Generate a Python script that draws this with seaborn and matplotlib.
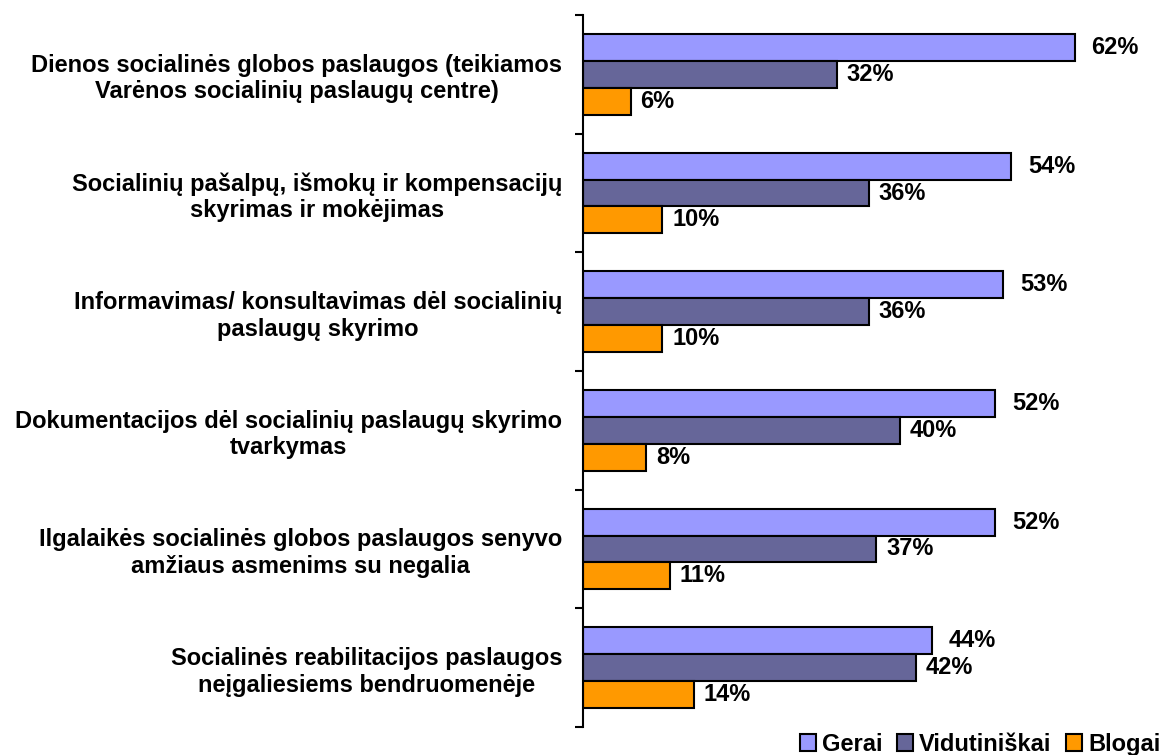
import pandas as pd
import matplotlib.pyplot as plt
import seaborn as sns

# survey categories and answer shares (%)
categories = [
    "Dienos socialinės globos paslaugos (teikiamos\nVarėnos socialinių paslaugų centre)",
    "Socialinių pašalpų, išmokų ir kompensacijų\nskyrimas ir mokėjimas",
    "Informavimas/ konsultavimas dėl socialinių\npaslaugų skyrimo",
    "Dokumentacijos dėl socialinių paslaugų skyrimo\ntvarkymas",
    "Ilgalaikės socialinės globos paslaugos senyvo\namžiaus asmenims su negalia",
    "Socialinės reabilitacijos paslaugos\nneįgaliesiems bendruomenėje",
]
series = ["Gerai", "Vidutiniškai", "Blogai"]
gerai = [62, 54, 53, 52, 52, 44]
vidutiniskai = [32, 36, 36, 40, 37, 42]
blogai = [6, 10, 10, 8, 11, 14]
colors = ["#9999FF", "#666699", "#FF9900"]

rows = []
for i, cat in enumerate(categories):
    for name, vals in zip(series, [gerai, vidutiniskai, blogai]):
        rows.append({"Kategorija": cat, "Vertinimas": name, "Procentai": vals[i]})
df = pd.DataFrame(rows)

sns.set_style("white")
plt.rcParams["font.family"] = ["Liberation Sans", "DejaVu Sans"]
plt.rcParams["font.weight"] = "bold"
plt.rcParams["text.color"] = "black"
plt.rcParams["ytick.color"] = "black"

fs = 17

fig = plt.figure(figsize=(11.63, 7.55), dpi=100)
ax = fig.add_axes([0.5013, 0.0371, 0.491, 0.943])

sns.barplot(data=df, y="Kategorija", x="Procentai", hue="Vertinimas",
            hue_order=series, palette=colors, orient="h", width=0.68,
            edgecolor="black", linewidth=1.5, saturation=1, ax=ax)

ax.set_xlim(0, 72)
ax.set_ylim(5.5, -0.5)
ax.set_xlabel("")
ax.set_ylabel("")
ax.set_xticks([])

# category labels at centres, tick marks at group boundaries
ax.set_yticks(range(len(categories)))
ax.set_yticklabels(categories, fontsize=fs, fontweight="bold", color="black",
                   multialignment="center", linespacing=1.2)
ax.set_yticks([i - 0.5 for i in range(len(categories) + 1)], minor=True)
ax.tick_params(axis="y", which="major", length=0, pad=15)
ax.tick_params(axis="y", which="minor", length=6, width=1.5, color="black", left=True)

for side in ["top", "right", "bottom"]:
    ax.spines[side].set_visible(False)
ax.spines["left"].set_linewidth(1.5)
ax.spines["left"].set_color("black")

for k, cont in enumerate(ax.containers):
    ax.bar_label(cont, labels=[f"{int(v)}%" for v in cont.datavalues],
                 padding=12 if k == 0 else 7, fontsize=fs, fontweight="bold",
                 color="black")

handles, labels = ax.get_legend_handles_labels()
if ax.get_legend() is not None:
    ax.get_legend().remove()
fig.legend(handles, labels, loc="lower right", bbox_to_anchor=(1.016, -0.029),
           ncol=3, frameon=False, fontsize=fs, handlelength=0.7,
           handleheight=0.7, handletextpad=0.25, columnspacing=0.6)

fig.savefig("out.png", dpi=100)
